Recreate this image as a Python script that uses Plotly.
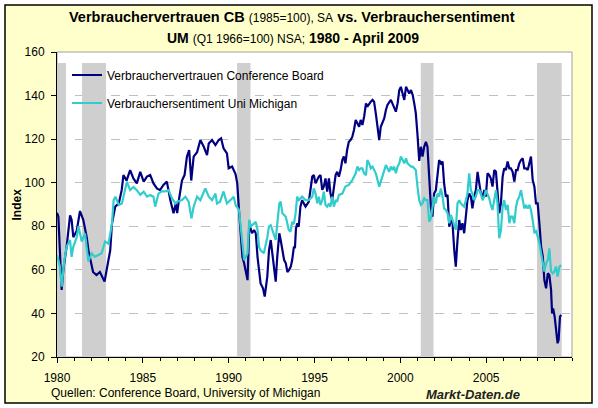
import plotly.graph_objects as go

# ---- Data ----
cb_x = [1980.00,1980.08,1980.27,1980.37,1980.56,1980.76,1980.85,1980.95,1981.15,1981.34,1981.53,1981.73,1981.83,1981.92,
        1982.10,1982.30,1982.50,1982.77,1982.90,1983.10,1983.20,1983.39,1983.60,1983.77,1983.87,1984.05,1984.26,1984.45,
        1984.65,1984.85,1985.05,1985.24,1985.43,1985.62,1985.82,1986.00,1986.20,1986.40,1986.60,1986.79,1986.92,1987.00,
        1987.10,1987.28,1987.43,1987.57,1987.70,1987.82,1987.96,1988.16,1988.35,1988.55,1988.74,1988.84,1989.03,1989.23,
        1989.42,1989.56,1989.70,1989.90,1990.00,1990.20,1990.40,1990.50,1990.60,1990.70,1990.80,1990.90,1991.00,1991.10,
        1991.20,1991.36,1991.48,1991.58,1991.68,1991.77,1991.86,1992.00,1992.10,1992.25,1992.35,1992.45,1992.55,1992.65,
        1992.74,1992.83,1992.95,1993.03,1993.13,1993.23,1993.33,1993.42,1993.52,1993.62,1993.70,1993.80,1993.86,1993.92,
        1994.00,1994.08,1994.18,1994.28,1994.38,1994.48,1994.67,1994.87,1994.96,1995.06,1995.25,1995.35,1995.45,1995.54,
        1995.64,1995.74,1995.84,1995.93,1996.03,1996.13,1996.23,1996.32,1996.42,1996.52,1996.62,1996.71,1996.80,1996.90,
        1997.00,1997.10,1997.20,1997.30,1997.40,1997.50,1997.60,1997.69,1997.79,1997.89,1998.00,1998.08,1998.18,1998.28,
        1998.38,1998.47,1998.57,1998.67,1998.77,1998.86,1998.96,1999.06,1999.16,1999.25,1999.45,1999.55,1999.74,1999.84,
        1999.94,2000.03,2000.13,2000.23,2000.33,2000.42,2000.52,2000.62,2000.72,2000.81,2000.90,2001.00,2001.10,2001.20,
        2001.29,2001.39,2001.49,2001.58,2001.68,2001.78,2001.87,2001.97,2002.07,2002.16,2002.26,2002.36,2002.46,2002.55,
        2002.65,2002.75,2002.85,2002.94,2003.04,2003.14,2003.23,2003.33,2003.43,2003.52,2003.62,2003.72,2003.82,2003.91,
        2004.01,2004.11,2004.20,2004.30,2004.40,2004.50,2004.60,2004.69,2004.79,2004.89,2004.98,2005.08,2005.18,2005.27,
        2005.37,2005.47,2005.57,2005.66,2005.76,2005.86,2005.96,2006.05,2006.15,2006.25,2006.35,2006.44,2006.54,2006.64,
        2006.74,2006.83,2006.93,2007.03,2007.13,2007.22,2007.32,2007.42,2007.52,2007.61,2007.71,2007.81,2007.90,2008.00,
        2008.10,2008.20,2008.30,2008.39,2008.49,2008.59,2008.68,2008.78,2008.84,2008.90,2008.99,2009.07,2009.16,2009.22,
        2009.30,2009.37]
cb_y = [86.2,84.4,50.8,60.0,70.6,85.0,83.0,75.0,78.0,87.0,83.0,75.0,69.0,66.0,
        59.0,57.6,59.0,54.6,60.0,69.0,81.0,89.0,90.5,96.7,103.5,101.0,105.8,102.0,
        99.7,105.0,100.5,102.8,103.5,99.7,97.4,96.6,99.0,100.5,92.0,86.0,90.5,86.0,
        92.0,101.0,103.5,112.0,115.0,101.0,112.0,114.0,119.6,116.5,112.7,118.0,119.6,117.3,
        119.6,120.4,115.8,113.5,106.6,107.4,104.0,99.7,87.5,76.8,66.0,63.0,58.4,55.3,
        81.0,76.8,78.3,76.8,66.0,60.0,53.8,51.5,47.7,56.9,69.0,73.7,66.0,60.0,
        54.6,66.0,76.8,73.7,69.0,64.5,63.0,59.0,60.0,61.5,64.5,70.6,70.0,79.0,
        81.4,79.8,89.0,92.0,90.5,89.0,91.3,102.8,103.5,99.7,102.8,103.5,96.7,98.2,
        102.0,95.9,102.0,95.0,92.0,98.2,103.5,105.0,102.8,105.8,110.4,112.0,108.9,115.0,
        118.8,119.6,121.0,124.2,128.8,127.3,125.7,128.8,126.5,130.3,136.4,134.9,136.4,137.2,
        138.0,137.2,131.8,125.7,119.6,125.7,127.3,129.5,133.4,135.7,138.0,136.4,132.6,136.4,
        142.5,144.0,141.0,138.0,144.0,142.5,141.0,142.5,140.3,136.4,132.0,122.0,110.0,116.5,
        112.0,116.5,118.8,116.5,102.8,89.0,84.4,95.0,96.6,102.8,110.4,108.9,109.7,99.7,
        93.6,94.4,79.8,82.9,81.4,69.1,61.5,73.7,82.9,78.3,81.4,76.8,84.4,92.0,
        95.0,93.6,88.2,93.6,96.6,105.0,99.7,95.0,93.6,96.6,93.6,104.3,103.5,102.0,
        98.2,105.8,105.0,97.4,86.0,90.5,102.8,106.6,105.8,109.7,106.6,106.6,105.0,100.5,
        105.8,105.8,108.9,110.4,111.2,106.6,106.6,105.8,108.9,112.0,101.2,98.2,90.5,90.5,
        81.4,70.6,66.0,55.3,51.5,58.4,57.6,50.8,40.0,42.3,38.5,33.9,26.3,27.8,
        38.5,39.3]

um_x = [1980.00,1980.17,1980.27,1980.43,1980.56,1980.76,1980.85,1980.95,1981.15,1981.25,1981.44,1981.63,1981.83,1982.02,
        1982.20,1982.40,1982.60,1982.80,1983.00,1983.20,1983.30,1983.40,1983.60,1983.78,1983.97,1984.07,1984.26,1984.45,
        1984.65,1984.85,1985.05,1985.24,1985.43,1985.62,1985.72,1985.91,1986.10,1986.30,1986.50,1986.70,1986.90,1987.00,
        1987.28,1987.48,1987.67,1987.83,1987.96,1988.16,1988.35,1988.55,1988.64,1988.84,1989.03,1989.23,1989.32,1989.50,
        1989.70,1989.90,1990.10,1990.30,1990.40,1990.60,1990.70,1990.80,1990.90,1991.00,1991.10,1991.20,1991.30,1991.44,
        1991.58,1991.68,1991.77,1991.86,1992.05,1992.25,1992.35,1992.45,1992.65,1992.74,1992.83,1992.95,1993.03,1993.13,
        1993.33,1993.50,1993.60,1993.70,1993.80,1993.90,1993.99,1994.08,1994.28,1994.48,1994.67,1994.87,1994.96,1995.06,
        1995.16,1995.25,1995.35,1995.45,1995.54,1995.64,1995.74,1995.84,1995.93,1996.03,1996.13,1996.23,1996.32,1996.42,
        1996.62,1996.80,1997.00,1997.20,1997.40,1997.50,1997.60,1997.69,1997.79,1997.89,1998.00,1998.08,1998.18,1998.28,
        1998.38,1998.57,1998.67,1998.77,1998.86,1998.96,1999.06,1999.16,1999.25,1999.35,1999.45,1999.55,1999.64,1999.74,
        1999.84,1999.94,2000.03,2000.13,2000.23,2000.33,2000.42,2000.52,2000.62,2000.72,2000.81,2000.90,2001.00,2001.10,
        2001.20,2001.29,2001.39,2001.49,2001.58,2001.68,2001.78,2001.87,2001.97,2002.07,2002.16,2002.26,2002.36,2002.46,
        2002.55,2002.65,2002.75,2002.85,2002.94,2003.04,2003.14,2003.23,2003.33,2003.43,2003.52,2003.62,2003.72,2003.82,
        2003.91,2004.01,2004.11,2004.20,2004.30,2004.40,2004.50,2004.60,2004.69,2004.79,2004.89,2004.98,2005.08,2005.18,
        2005.27,2005.37,2005.47,2005.57,2005.66,2005.76,2005.86,2005.96,2006.05,2006.15,2006.25,2006.35,2006.44,2006.54,
        2006.64,2006.74,2006.83,2006.93,2007.03,2007.13,2007.22,2007.32,2007.42,2007.52,2007.61,2007.71,2007.81,2007.90,
        2008.00,2008.10,2008.20,2008.30,2008.39,2008.49,2008.59,2008.68,2008.78,2008.88,2008.97,2009.07,2009.16,2009.27,
        2009.37]
um_y = [66.8,61.5,52.3,64.5,70.6,73.7,66.0,70.6,75.0,80.0,73.0,76.8,63.8,67.6,
        66.0,66.8,67.6,73.0,72.0,81.0,92.0,93.6,89.8,90.5,96.6,100.5,96.6,98.0,
        96.6,94.4,95.9,93.6,94.4,93.6,89.0,95.0,96.0,96.0,96.6,92.8,90.5,91.3,
        92.0,93.6,91.3,83.6,89.0,93.6,92.0,96.0,97.4,93.6,92.0,95.0,90.5,91.3,
        96.0,90.5,92.0,93.6,89.8,87.5,80.0,70.6,64.5,66.0,67.6,83.0,80.0,81.0,
        82.0,78.3,70.6,69.0,67.6,75.0,80.0,80.5,75.0,73.7,81.0,90.5,91.3,86.0,
        84.4,78.3,77.5,82.0,81.0,86.0,93.6,92.0,93.6,92.0,92.0,93.6,97.4,95.0,
        90.5,93.6,89.8,92.0,95.9,89.8,89.0,90.5,89.0,93.6,89.0,92.0,91.3,94.4,
        95.0,98.2,99.0,101.2,104.3,107.4,105.8,106.6,106.6,104.3,103.5,110.4,108.9,106.6,
        107.4,104.3,101.2,98.2,100.5,102.8,105.8,108.1,106.6,105.0,107.4,105.8,107.4,104.3,
        107.4,108.9,112.0,110.4,108.9,111.2,108.9,108.1,107.4,107.4,106.6,105.8,98.2,92.0,
        89.8,90.5,92.8,92.0,92.0,82.1,83.6,87.5,93.6,90.5,95.0,93.6,97.4,93.6,
        88.2,87.5,86.0,81.4,85.2,82.9,79.8,78.3,90.5,92.0,90.5,89.8,89.0,92.0,
        95.0,104.3,96.6,95.0,92.0,93.6,96.6,96.6,95.0,92.0,93.6,96.6,95.0,92.8,
        89.8,87.5,92.0,96.6,90.5,74.5,78.3,89.0,92.0,87.5,89.8,81.4,84.4,84.4,
        81.4,89.0,92.0,93.6,96.6,92.0,88.2,89.8,88.2,89.8,87.5,82.9,76.8,78.3,
        75.2,72.2,67.6,63.0,59.2,63.0,64.5,69.9,59.2,58.4,59.2,61.5,56.9,61.5,
        62.2]

rec_start = [1980.00, 1981.46, 1990.49, 2001.19, 2007.96]
rec_end = [1980.53, 1982.86, 1991.27, 2001.93, 2009.40]
rec_top = 155

x_tickvals = [1980, 1985, 1990, 1995, 2000, 2005]
x_ticktext = ["1980", "1985", "1990", "1995", "2000", "2005"]
x_minor = list(range(1980, 2011))

FONT = "Arial, Liberation Sans, sans-serif"

fig = go.Figure()
fig.add_trace(go.Scatter(x=cb_x, y=cb_y, mode="lines", name="Verbrauchervertrauen Conference Board",
                         line=dict(color="#000080", width=2.2), legend="legend"))
fig.add_trace(go.Scatter(x=um_x, y=um_y, mode="lines", name="Verbrauchersentiment Uni Michigan",
                         line=dict(color="#33CCCC", width=2.2), legend="legend2"))

shapes = []
# outer frame (yellow)
shapes.append(dict(type="rect", xref="paper", yref="paper",
                   x0=(5 - 57) / 515, x1=(592 - 57) / 515, y0=(357 - 403) / 305, y1=(357 - 5) / 305,
                   fillcolor="#FFFFCC", line=dict(color="black", width=1.5), layer="below"))
# plot area (white)
shapes.append(dict(type="rect", xref="x domain", yref="y domain", x0=0, x1=1, y0=0, y1=1,
                   fillcolor="white", line=dict(color="#A0A0A0", width=1), layer="below"))
for s, e in zip(rec_start, rec_end):
    shapes.append(dict(type="rect", xref="x", yref="y", x0=s, x1=e, y0=20, y1=rec_top,
                       fillcolor="#CFCFCF", line=dict(width=0), layer="between"))

annotations = [
    dict(text="<b>Verbrauchervertrauen CB</b> <span style='font-size:12px'>(1985=100), SA</span> <b>vs. Verbrauchersentiment</b>",
         xref="paper", yref="paper", x=(292 - 57) / 515, y=(357 - 17) / 305, showarrow=False,
         xanchor="center", yanchor="middle", font=dict(size=14.5, color="black", family=FONT)),
    dict(text="<b>UM</b> <span style='font-size:12px'>(Q1 1966=100) NSA;</span> <b>1980 - April 2009</b>",
         xref="paper", yref="paper", x=(293 - 57) / 515, y=(357 - 38) / 305, showarrow=False,
         xanchor="center", yanchor="middle", font=dict(size=14, color="black", family=FONT)),
    dict(text="<b>Index</b>", xref="paper", yref="paper", x=(16 - 57) / 515, y=0.5, textangle=-90,
         showarrow=False, xanchor="center", yanchor="middle", font=dict(size=12, color="black", family=FONT)),
    dict(text="Quellen: Conference Board, University of Michigan", xref="paper", yref="paper",
         x=(49 - 57) / 515, y=(357 - 393) / 305, showarrow=False, xanchor="left", yanchor="middle",
         font=dict(size=12, color="black", family=FONT)),
    dict(text="<b><i>Markt-Daten.de</i></b>", xref="paper", yref="paper",
         x=(424 - 57) / 515, y=(357 - 394) / 305, showarrow=False, xanchor="left", yanchor="middle",
         font=dict(size=13, color="#222222", family=FONT)),
]

fig.update_layout(
    width=598, height=408,
    margin=dict(l=57, r=26, t=52, b=51),
    paper_bgcolor="white", plot_bgcolor="white",
    font=dict(family=FONT, size=12, color="black"),
    shapes=shapes, annotations=annotations,
    showlegend=True,
    legend=dict(x=(67 - 57) / 515, y=(357 - 75) / 305, xanchor="left", yanchor="middle",
                bgcolor="rgba(0,0,0,0)", font=dict(size=12, color="black"), itemwidth=30),
    legend2=dict(x=(67 - 57) / 515, y=(357 - 103) / 305, xanchor="left", yanchor="middle",
                 bgcolor="rgba(0,0,0,0)", font=dict(size=12, color="black"), itemwidth=30),
    xaxis=dict(range=[1980, 2010], tickmode="array", tickvals=x_tickvals, ticktext=x_ticktext,
               ticks="outside", ticklen=5, tickcolor="black", showline=True, linecolor="black", linewidth=1,
               showgrid=False, zeroline=False, tickfont=dict(size=12, color="black"), ticklabelstandoff=5,
               minor=dict(tickmode="array", tickvals=x_minor, ticks="outside", ticklen=3, tickcolor="black",
                          showgrid=False)),
    yaxis=dict(range=[20, 160], dtick=20, tick0=20, ticks="outside", ticklen=5, tickcolor="black",
               showline=True, linecolor="black", linewidth=1, showgrid=True, gridcolor="#C0C0C0",
               griddash="dash", gridwidth=1, zeroline=False, tickfont=dict(size=12, color="black"),
               ticklabelstandoff=4),
)

fig.write_html("out.html")
